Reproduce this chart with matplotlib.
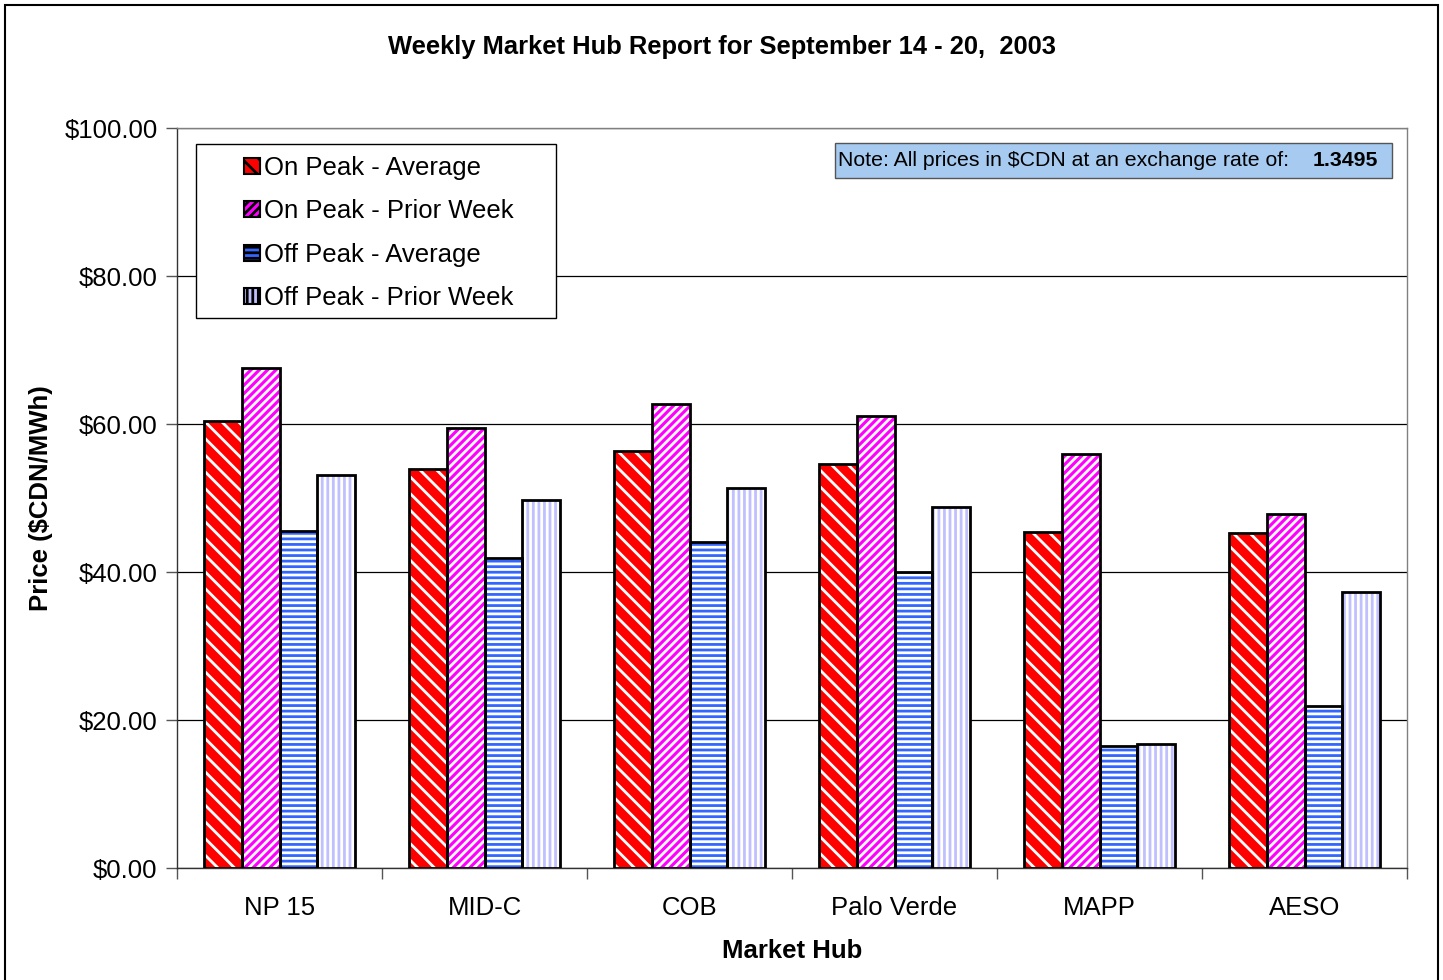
import numpy as np
import matplotlib.pyplot as plt
from matplotlib.patches import Rectangle, Patch
from matplotlib.legend_handler import HandlerPatch
from matplotlib.ticker import FixedLocator, NullFormatter, StrMethodFormatter

plt.rcParams['font.family'] = ['Liberation Sans', 'DejaVu Sans']
plt.rcParams['hatch.linewidth'] = 2.0

hubs = ['NP 15', 'MID-C', 'COB', 'Palo Verde', 'MAPP', 'AESO']
on_avg = [60.4, 53.9, 56.4, 54.6, 45.4, 45.3]
on_prior = [67.6, 59.5, 62.7, 61.1, 55.9, 47.8]
off_avg = [45.5, 41.9, 44.1, 40.0, 16.5, 21.9]
off_prior = [53.1, 49.7, 51.4, 48.8, 16.8, 37.3]

series = [
    ('On Peak - Average', on_avg, '#ff0000', '\\\\'),
    ('On Peak - Prior Week', on_prior, '#ff00ff', '////'),
    ('Off Peak - Average', off_avg, '#3366ff', '---'),
    ('Off Peak - Prior Week', off_prior, '#c0c0ff', '|||'),
]


class SquareAtRight(HandlerPatch):
    # small square drawn at the right end of the handle box
    def create_artists(self, legend, orig_handle, xdescent, ydescent,
                       width, height, fontsize, trans):
        s = 0.62 * fontsize
        p = Rectangle((width - s - xdescent, -ydescent + (height - s) / 2), s, s)
        self.update_prop(p, orig_handle, legend)
        p.set_linewidth(1.5)
        p.set_transform(trans)
        return [p]


fig = plt.figure(figsize=(14.43, 9.8), dpi=100)
ax = fig.add_axes([177 / 1443, 1 - 868 / 980, 1230 / 1443, 740 / 980])

x = np.arange(len(hubs))
w = 0.183
handles = []
for i, (name, vals, col, hatch) in enumerate(series):
    pos = x + (i - 1.5) * w
    ax.bar(pos, vals, w, color=col, edgecolor='white', hatch=hatch, linewidth=0, zorder=3)
    ax.bar(pos, vals, w, fill=False, edgecolor='black', linewidth=2, zorder=4)
    handles.append(Patch(facecolor=col, edgecolor='black', hatch=hatch, label=name))

ax.set_xlim(-0.5, len(hubs) - 0.5)
ax.set_ylim(0, 100)
ax.set_yticks(np.arange(0, 101, 20))
ax.yaxis.set_major_formatter(StrMethodFormatter('${x:,.2f}'))
ax.yaxis.grid(True, color='black', linewidth=0.9, zorder=0)
ax.set_xticks(x)
ax.set_xticklabels(hubs)
ax.xaxis.set_minor_locator(FixedLocator(np.arange(-0.5, len(hubs), 1.0)))
ax.xaxis.set_minor_formatter(NullFormatter())
ax.tick_params(axis='x', which='major', length=0, pad=20, labelsize=18.5)
ax.tick_params(axis='x', which='minor', length=8, width=1, color='#555555')
ax.tick_params(axis='y', length=8, width=1, labelsize=18.5, pad=6, color='#555555')
for s in ax.spines.values():
    s.set_color('#808080')
    s.set_linewidth(1)
ax.spines['left'].set_color('#333333')
ax.spines['bottom'].set_color('#333333')

ax.set_ylabel('Price ($CDN/MWh)', fontsize=18.5, fontweight='bold', labelpad=8)
ax.set_xlabel('Market Hub', fontsize=18.5, fontweight='bold', labelpad=14)

fig.text(722 / 1443, 1 - 47 / 980, 'Weekly Market Hub Report for September 14 - 20,  2003',
         ha='center', va='center', fontsize=18.4, fontweight='bold')

# legend box drawn by hand, entries placed inside it
fig.patches.append(Rectangle((196 / 1443, 1 - 318 / 980), 360 / 1443, 174 / 980,
                             transform=fig.transFigure, facecolor='white',
                             edgecolor='black', linewidth=1, zorder=5))
leg = fig.legend(handles=handles, loc='upper left',
                 bbox_to_anchor=(206 / 1443, 1 - 156 / 980),
                 bbox_transform=fig.transFigure,
                 fontsize=18.5, frameon=False,
                 handler_map={Patch: SquareAtRight()},
                 handlelength=2.1, handleheight=0.8, handletextpad=0.15,
                 labelspacing=0.75, borderpad=0.0, borderaxespad=0)
leg.set_zorder(6)

# note box
fig.patches.append(Rectangle((835 / 1443, 1 - 178 / 980), 557 / 1443, 35 / 980,
                             transform=fig.transFigure, facecolor='#a6caf0',
                             edgecolor='#555555', linewidth=1, zorder=5))
fig.text(838 / 1443, 1 - 160.5 / 980, 'Note: All prices in $CDN at an exchange rate of:',
         ha='left', va='center', fontsize=15.3, zorder=6)
fig.text(1378 / 1443, 1 - 160.5 / 980, '1.3495', ha='right', va='center',
         fontsize=15.3, fontweight='bold', zorder=6)

# outer border
fig.patches.append(Rectangle((5 / 1443, -0.01), 1433 / 1443, 1 - 5 / 980 + 0.01,
                             transform=fig.transFigure, fill=False,
                             edgecolor='black', linewidth=1.5))

fig.savefig('out.png', dpi=100)
